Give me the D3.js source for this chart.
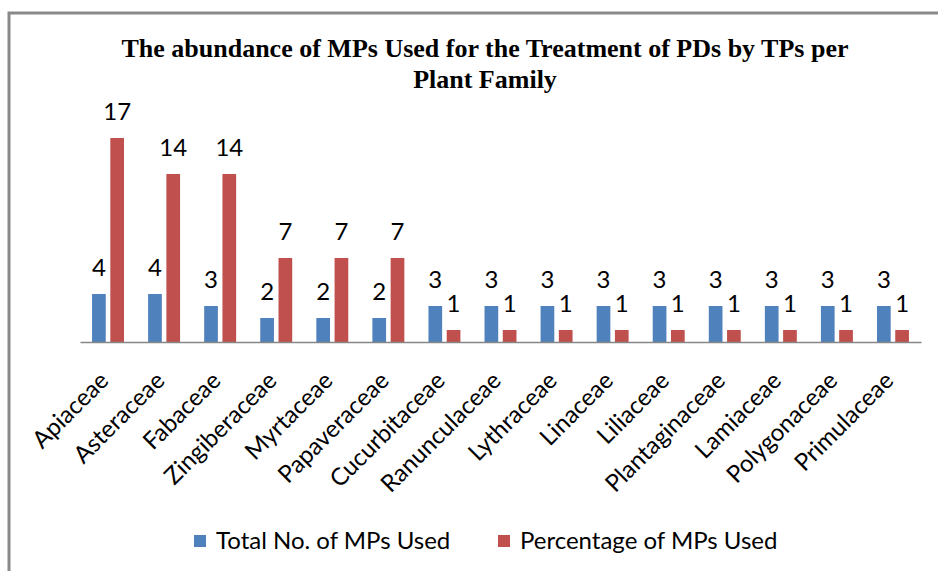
<!DOCTYPE html>
<html>
<head>
<meta charset="utf-8">
<script src="https://cdn.jsdelivr.net/npm/d3@7"></script>
<style>
  body { margin: 0; background: #fff; }
  text { font-family: Lato, "Open Sans", sans-serif; fill: #000; }
</style>
</head>
<body>
<div id="content"></div>
<script>
// data
var families = ['Apiaceae', 'Asteraceae', 'Fabaceae', 'Zingiberaceae', 'Myrtaceae', 'Papaveraceae',
  'Cucurbitaceae', 'Ranunculaceae', 'Lythraceae', 'Linaceae', 'Liliaceae', 'Plantaginaceae',
  'Lamiaceae', 'Polygonaceae', 'Primulaceae'];
var totalUsed = [4, 4, 3, 2, 2, 2, 3, 3, 3, 3, 3, 3, 3, 3, 3];
var percentUsed = [17, 14, 14, 7, 7, 7, 1, 1, 1, 1, 1, 1, 1, 1, 1];
var seriesNames = ['Total No. of MPs Used', 'Percentage of MPs Used'];
var titleLines = ['The abundance of MPs Used for the Treatment of PDs by TPs per', 'Plant Family'];

var colors = ['#4F81BD', '#C0504D'];
var width = 938, height = 571;
var baseY = 342;

var svg = d3.select("#content")
  .append("svg")
  .attr("width", width)
  .attr("height", height);

// chart frame (only top and left edges are in view)
svg.append("rect")
  .attr("x", 9).attr("y", 13)
  .attr("width", 1000).attr("height", 700)
  .attr("fill", "none")
  .attr("stroke", "#8a8a8a")
  .attr("stroke-width", 3);

// title
svg.selectAll(".title")
  .data(titleLines)
  .join("text")
    .attr("class", "title")
    .attr("x", 485)
    .attr("y", (d, i) => 57 + i * 31)
    .attr("text-anchor", "middle")
    .style("font-family", "'Liberation Serif', 'Times New Roman', serif")
    .style("font-weight", "bold")
    .style("font-size", "26px")
    .text((d) => d);

// scales
var xScale = d3.scaleBand().domain(families).range([80, 921]).paddingInner(0.43).paddingOuter(0.215);
var xSub = d3.scaleBand().domain([0, 1]).range([0, xScale.bandwidth()]).paddingInner(0.25);
var yScale = d3.scaleLinear().domain([0, 20]).range([baseY, 102]);

var rows = families.map(function(f, i) {
  return {name: f, values: [totalUsed[i], percentUsed[i]]};
});

var groups = svg.selectAll(".group")
  .data(rows)
  .join("g")
    .attr("class", "group")
    .attr("transform", (d) => "translate(" + xScale(d.name) + ",0)");

groups.selectAll("rect")
  .data((d) => d.values.map((v, j) => ({v: v, j: j})))
  .join("rect")
    .attr("x", (d) => xSub(d.j))
    .attr("y", (d) => yScale(d.v))
    .attr("width", xSub.bandwidth())
    .attr("height", (d) => baseY - yScale(d.v))
    .attr("fill", (d) => colors[d.j]);

// value labels
groups.selectAll(".valLabel")
  .data((d) => d.values.map((v, j) => ({v: v, j: j})))
  .join("text")
    .attr("class", "valLabel")
    .attr("x", (d) => xSub(d.j) + xSub.bandwidth() / 2)
    .attr("y", (d) => yScale(d.v) - 18)
    .attr("text-anchor", "middle")
    .style("font-size", "24px")
    .text((d) => d.v);

// category axis
var xAxis = d3.axisBottom(xScale).tickSize(0).tickFormat("");
svg.append("g")
  .attr("transform", "translate(0," + baseY + ")")
  .call(xAxis)
  .call((g) => g.select(".domain").attr("stroke", "#868686").attr("stroke-width", 1.5));

svg.selectAll(".catLabel")
  .data(families)
  .join("text")
    .attr("class", "catLabel")
    .attr("transform", (d) => "translate(" + (xScale(d) + xScale.bandwidth() / 2 + 2) + "," + (baseY + 40) + ") rotate(-45)")
    .attr("text-anchor", "end")
    .style("font-size", "24px")
    .text((d) => d);

// legend
var legendX = [194, 498];
var legend = svg.selectAll(".legend")
  .data(seriesNames)
  .join("g")
    .attr("class", "legend")
    .attr("transform", (d, i) => "translate(" + legendX[i] + ",535)");

legend.append("rect")
  .attr("width", 12).attr("height", 12)
  .attr("fill", (d, i) => colors[i]);

legend.append("text")
  .attr("x", 22)
  .attr("y", 14)
  .style("font-size", "24px")
  .text((d) => d);
</script>
</body>
</html>
